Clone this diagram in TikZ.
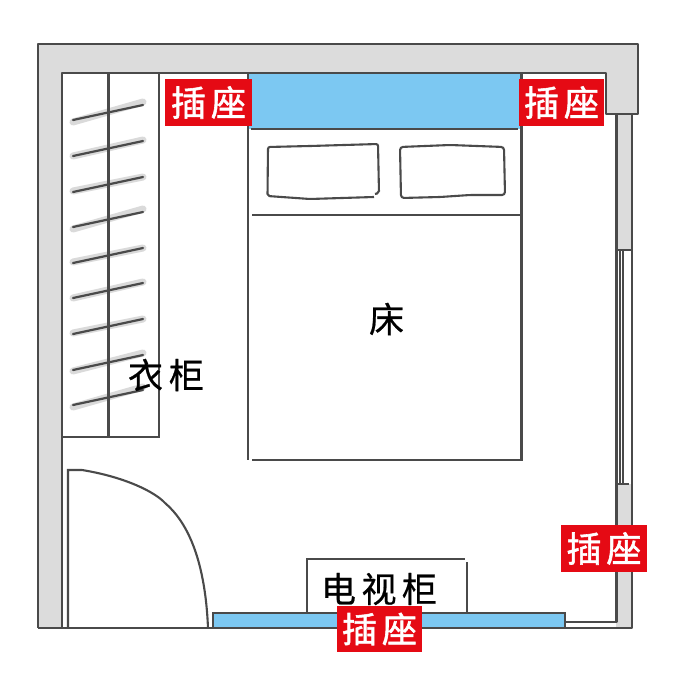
\documentclass[tikz,border=0pt]{standalone}
\usepackage{fontspec}
\setmainfont{Noto Sans CJK SC}
\newfontfamily\cjkmed[FakeBold=0.6]{Noto Sans CJK SC}
\newfontfamily\cjksock[FakeBold=1.6]{Noto Sans CJK SC}
\definecolor{wallgrey}{HTML}{DCDCDC}
\definecolor{inkline}{HTML}{4A4A4A}
\definecolor{bluefill}{HTML}{7CC8F2}
\definecolor{redfill}{HTML}{E50A14}
\definecolor{halo}{HTML}{DADADA}
\tikzset{
  x=1pt,y=-1pt,
  wall/.style={draw=inkline,line width=2.2pt,line join=round},
  thin ink/.style={draw=inkline,line width=2.1pt},
  hanger/.style={draw=inkline,line width=2.2pt,line cap=round},
  hangerhalo/.style={draw=halo,line width=7pt,line cap=round},
  socket/.style={fill=redfill,text=white,inner sep=0pt,anchor=center,font=\cjksock\fontsize{35}{35}\selectfont,align=center},
  roomlabel/.style={text=black,inner sep=0pt,font=\cjkmed\fontsize{35}{35}\selectfont},
}
\begin{document}
\begin{tikzpicture}
\useasboundingbox (0,0) rectangle (680,680);
\fill[white] (0,0) rectangle (680,680);
% walls
\fill[wallgrey] (38,44) -- (638,44) -- (638,114) -- (632,114) -- (632,628) -- (616,628) -- (616,114) -- (606,114) -- (606,73) -- (62,73) -- (62,628) -- (38,628) -- cycle;
\draw[wall] (38,628) -- (38,44) -- (638,44) -- (638,114) -- (606,114) -- (606,73) -- (62,73) -- (62,628);
\draw[wall] (616.5,114) -- (616.5,622) -- (565,622);
\draw[wall] (632,114) -- (632,628) -- (213,628);
\draw[wall] (38,628) -- (213,628);
% window
\fill[white] (618,250) rectangle (631,484);
\draw[thin ink] (617,250) -- (631,250) (617,484) -- (629,484);
\draw[draw=inkline,line width=1.2pt] (620,250) -- (620,484) (623,250) -- (623,484);
% wardrobe
\draw[thin ink] (62,437) -- (159,437) -- (159,73);
\foreach \y/\d in {120/4,156/2,192/1,227/4,263/1,298/2,334/1,370/3,405/4}{
  \draw[hangerhalo] (73,\y+\d-2) -- (143,\y-15-\d+1);
}
\draw[draw=inkline,line width=3pt] (108,73) -- (108,437);
\foreach \y in {120,156,192,227,263,298,334,370,405}{
  \draw[hanger] (73,\y) -- (143,\y-15);
}
% bed
\fill[bluefill] (249,73) rectangle (520,129);
\draw[thin ink] (248,73) -- (248,460) (252,460) -- (521.5,460) -- (521.5,73) (251,129) -- (518,129) (252,215) -- (520,215) (62,73) -- (606,73);
\draw[thin ink,rounded corners=2pt] (374,197) -- (310,199) -- (267.5,196) -- (268,147) -- (310,146) -- (378,144) -- (379,193) -- (375,194);
\draw[thin ink,rounded corners=3pt] (400,147) -- (401,198) -- (440,197) -- (470,195) -- (505,195) -- (504,147) -- (450,145) -- cycle;
% door
\draw[thin ink] (68,628) -- (68,470) -- (82,470) .. controls (125,477) and (155,492) .. (165,503) .. controls (185,520) and (205,555) .. (208,628);
% tv
\draw[thin ink] (307,613) -- (307,559) -- (465,559) (467,562) -- (467,613);
\fill[bluefill] (213,613) rectangle (565,628);
\draw[thin ink] (213,628) -- (213,613) -- (565,613) -- (565,628) (213,628) -- (565,628);
% labels
\node[roomlabel] (bed) at (386.5,319) {床};
\node[roomlabel] (wardrobe) at (166,375) {衣\hspace{6pt}柜};
\node[roomlabel] (tv) at (379,589) {电\hspace{5.5pt}视\hspace{5.5pt}柜};
% sockets
\node[socket,minimum width=87pt,minimum height=47pt] (s1) at (208.5,102.5) {插\hspace{5pt}座};
\node[socket,minimum width=85pt,minimum height=47pt] (s2) at (561.5,102.5) {插\hspace{5pt}座};
\node[socket,minimum width=86pt,minimum height=47pt] (s3) at (604,548.5) {插\hspace{5pt}座};
\node[socket,minimum width=85pt,minimum height=46pt] (s4) at (379.5,629) {插\hspace{5pt}座};
\end{tikzpicture}
\end{document}
